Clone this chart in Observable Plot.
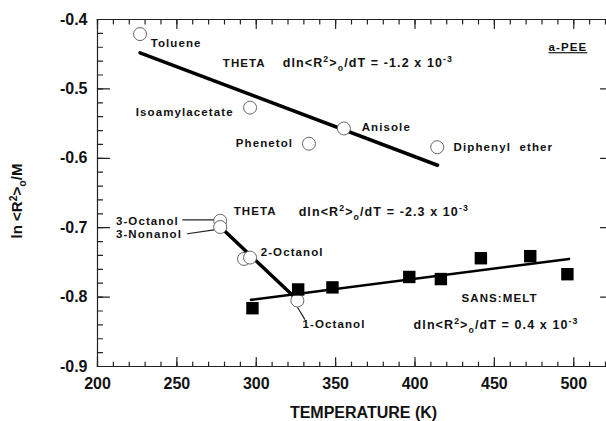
<!DOCTYPE html>
<html><head><meta charset="utf-8">
<script src="https://cdn.jsdelivr.net/npm/d3@7"></script>
<script src="https://cdn.jsdelivr.net/npm/@observablehq/plot@0.6"></script>
<style>
html,body{margin:0;padding:0;background:#fff;}
svg{display:block}
</style></head><body><div id="chart"></div>
<script>
// Theta solvents (open circles)
const solventNames = ["Toluene","Isoamylacetate","Phenetol","Anisole","Diphenyl ether"];
const solventT = [226.8, 296.1, 333.2, 355.2, 414.0];
const solventV = [-0.421, -0.527, -0.579, -0.557, -0.584];
// Alcohol theta solvents (open circles)
const alcoholNames = ["3-Octanol","3-Nonanol","2-Octanol","2-Octanol","1-Octanol"];
const alcoholT = [277.3, 277.3, 292.3, 296.1, 325.9];
const alcoholV = [-0.690, -0.699, -0.745, -0.743, -0.805];
// SANS melt (filled squares)
const meltT = [297.6, 326.4, 348.0, 396.4, 416.3, 441.5, 472.6, 496.0];
const meltV = [-0.816, -0.789, -0.786, -0.771, -0.774, -0.744, -0.741, -0.767];
// Fitted lines (end points)
const fitSolventT = [226.8, 414.2], fitSolventV = [-0.448, -0.610];
const fitAlcoholT = [278.8, 324.0], fitAlcoholV = [-0.702, -0.800];
const fitMeltT = [296.7, 497.0], fitMeltV = [-0.804, -0.745];
// Axis ticks
const xTicks = [200, 250, 300, 350, 400, 450, 500];
const yTicks = [-0.4, -0.5, -0.6, -0.7, -0.8, -0.9];
const xMinor = d3.range(200, 521, 10);
const yMinor = d3.range(-0.9, -0.399, 0.02).map(v => +v.toFixed(2));
// Annotations
const noteText = ["Toluene","THETA","Isoamylacetate","Phenetol","Anisole","Diphenyl\u00a0\u00a0ether","a-PEE",
  "THETA","3-Octanol","3-Nonanol","2-Octanol","1-Octanol","SANS:MELT"];
const noteT = [233.5, 278.9, 224.1, 287.1, 366.4, 424.3, 484.1, 285.8, 211.6, 211.6, 302.8, 329.2, 429.3];
const noteV = [-0.4346, -0.4634, -0.534, -0.5787, -0.5556, -0.5844, -0.4403, -0.6767, -0.6906, -0.7098, -0.7357, -0.8395, -0.802];
const eqText = ["dln<R^{2}>_{o}/dT = -1.2 x 10^{-3}", "dln<R^{2}>_{o}/dT = -2.3 x 10^{-3}", "dln<R^{2}>_{o}/dT = 0.4 x 10^{-3}"];
const eqT = [316.7, 326.7, 399.1];
const eqV = [-0.4634, -0.6767, -0.8395];
// Leader lines
const leaderId = [0, 0, 1, 1, 2, 2, 2];
const leaderT = [253.7, 273.2, 256.6, 273.4, 326.0, 328.5, 330.5];
const leaderV = [-0.6886, -0.6886, -0.7087, -0.7030, -0.815, -0.824, -0.832];

const zipXY = (T, V, extra = {}) => T.map((t, i) => ({t, v: V[i], ...Object.fromEntries(Object.entries(extra).map(([k, a]) => [k, a[i]]))}));
const solvents = zipXY(solventT, solventV, {name: solventNames});
const alcohols = zipXY(alcoholT, alcoholV, {name: alcoholNames});
const melt = zipXY(meltT, meltV);
const notes = zipXY(noteT, noteV, {text: noteText});
const eqs = zipXY(eqT, eqV, {text: eqText});
const leaders = zipXY(leaderT, leaderV, {id: leaderId.map(d => "lead" + d)});

const W = 606, H = 421, mL = 97, mR = 1, mT = 19, mB = 55;
const xDom = [200, 520], yDom = [-0.9, -0.4];
const kx = (xDom[1] - xDom[0]) / (W - mL - mR);   // data units per pixel
const ky = (yDom[1] - yDom[0]) / (H - mT - mB);

// frame and tick segments as two-point polylines (merged with the leader lines)
const seg = (id, x1, y1, x2, y2) => [{id, t: x1, v: y1}, {id, t: x2, v: y2}];
const framePts = [
  ...seg("top", xDom[0], yDom[1], xDom[1], yDom[1]),
  ...seg("bottom", xDom[0], yDom[0], xDom[1], yDom[0]),
  ...seg("left", xDom[0], yDom[0], xDom[0], yDom[1])
];
const tickPts = [
  ...xTicks.flatMap((x, i) => seg("xb" + i, x, yDom[0], x, yDom[0] + 9 * ky)),
  ...xMinor.flatMap((x, i) => seg("xbm" + i, x, yDom[0], x, yDom[0] + 4.5 * ky)),
  ...xTicks.flatMap((x, i) => seg("xt" + i, x, yDom[1], x, yDom[1] - 9 * ky)),
  ...xMinor.flatMap((x, i) => seg("xtm" + i, x, yDom[1], x, yDom[1] - 4.5 * ky)),
  ...yTicks.flatMap((y, i) => seg("yl" + i, xDom[0], y, xDom[0] + 12 * kx, y)),
  ...yMinor.flatMap((y, i) => seg("ylm" + i, xDom[0], y, xDom[0] + 5 * kx, y)),
  ...yTicks.flatMap((y, i) => seg("yr" + i, xDom[1], y, xDom[1] - 5 * kx, y))
];
const thinLines = [...leaders, ...framePts, ...tickPts];

const font = "'Liberation Sans', Arial, Helvetica, sans-serif";
const plot = Plot.plot({
  width: W, height: H,
  marginLeft: mL, marginRight: mR, marginTop: mT, marginBottom: mB,
  x: {domain: xDom, axis: null},
  y: {domain: yDom, axis: null},
  style: {fontFamily: font, fontWeight: "bold", color: "#111", background: "#fff"},
  marks: [
    // tick labels
    Plot.text(xTicks, {x: d => d, y: yDom[0], text: d => String(d), dy: 17, fontSize: 16, fontWeight: "bold", textAnchor: "middle", lineAnchor: "middle", fill: "#111"}),
    Plot.text(yTicks, {x: xDom[0], y: d => d, text: d => d.toFixed(1), dx: -10, fontSize: 16, fontWeight: "bold", textAnchor: "end", lineAnchor: "middle", fill: "#111"}),
    // axis titles
    Plot.text(["TEMPERATURE (K)"], {frameAnchor: "bottom", dx: 12, dy: 46, fontSize: 16, fontWeight: "bold", textAnchor: "middle", lineAnchor: "middle", fill: "#111"}),
    Plot.text(["ln <R^{2}>_{o}/M"], {frameAnchor: "left", rotate: -90, dx: -80, dy: 8, fontSize: 15, fontWeight: "bold", textAnchor: "middle", lineAnchor: "middle", fill: "#111"}),
    // fit lines
    Plot.line(zipXY(fitSolventT, fitSolventV), {x: "t", y: "v", stroke: "#000", strokeWidth: 3.5}),
    Plot.line(zipXY(fitAlcoholT, fitAlcoholV), {x: "t", y: "v", stroke: "#000", strokeWidth: 3.5}),
    Plot.line(zipXY(fitMeltT, fitMeltV), {x: "t", y: "v", stroke: "#000", strokeWidth: 2.6}),
    // leaders + frame + inward ticks
    Plot.line(thinLines, {x: "t", y: "v", z: "id", stroke: "#222", strokeWidth: 1.2, curve: "basis"}),
    // points
    Plot.dot(solvents, {x: "t", y: "v", r: 6.5, fill: "#fff", stroke: "#666", strokeWidth: 1}),
    Plot.dot(alcohols, {x: "t", y: "v", r: 6.5, fill: "#fff", stroke: "#666", strokeWidth: 1}),
    Plot.dot(melt, {x: "t", y: "v", r: 7, symbol: "square", fill: "#000", stroke: "none"}),
    // annotations
    Plot.text(notes, {x: "t", y: "v", text: "text", textAnchor: "start", lineAnchor: "middle", fontSize: 11.5, fontWeight: "bold", fill: "#111"}),
    Plot.text(eqs, {x: "t", y: "v", text: "text", textAnchor: "start", lineAnchor: "middle", fontSize: 12.5, fontWeight: "bold", fill: "#111"})
  ]
});

// rich text: superscripts/subscripts
plot.querySelectorAll("text").forEach(t => {
  const s = t.textContent;
  if (!/[\^_]\{/.test(s)) return;
  const parts = s.split(/([\^_]\{[^}]*\})/);
  while (t.firstChild) t.removeChild(t.firstChild);
  let shift = 0;
  for (const p of parts) {
    if (!p) continue;
    const ts = document.createElementNS("http://www.w3.org/2000/svg", "tspan");
    let target = 0, txt = p, small = false;
    if (p.startsWith("^{")) { target = -5; txt = p.slice(2, -1); small = true; }
    else if (p.startsWith("_{")) { target = 4; txt = p.slice(2, -1); small = true; }
    if (target - shift !== 0) ts.setAttribute("dy", target - shift);
    shift = target;
    if (small) ts.style.fontSize = "0.7em";
    ts.textContent = txt;
    t.appendChild(ts);
  }
});
plot.querySelectorAll("text").forEach(t => {
  const c = t.textContent;
  if (c === "a-PEE") t.style.textDecoration = "underline";
  if (/[A-Za-z]/.test(c) && !c.startsWith("TEMP") && !c.startsWith("ln ")) t.style.letterSpacing = "1.1px";
});
document.getElementById("chart").appendChild(plot);
</script>
</body></html>
